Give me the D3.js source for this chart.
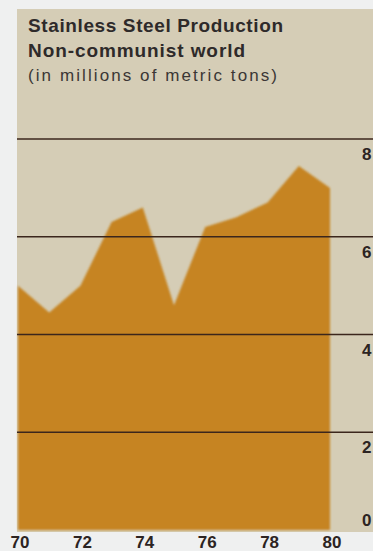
<!DOCTYPE html>
<html>
<head>
<meta charset="utf-8">
<script src="https://cdn.jsdelivr.net/npm/d3@7"></script>
<style>
  html, body { margin: 0; padding: 0; background: #eff0f0; }
  svg { display: block; }
</style>
</head>
<body>
<svg id="chart" width="373" height="551"></svg>
<script>
// Stainless steel production, non-communist world, millions of metric tons
const years = [1970, 1971, 1972, 1973, 1974, 1975, 1976, 1977, 1978, 1979, 1980];
const production = [5.0, 4.45, 5.0, 6.3, 6.6, 4.6, 6.2, 6.4, 6.7, 7.45, 7.0];
const yTicks = [0, 2, 4, 6, 8];
const gridValues = [2, 4, 6, 8];
const xTicks = [1970, 1972, 1974, 1976, 1978, 1980];
const titleLines = ["Stainless Steel Production", "Non-communist world"];
const subtitle = "(in millions of metric tons)";

const W = 373, H = 551;
const panel = { left: 17, top: 9, right: 373, bottom: 532 };
const FONT = "Liberation Sans, Arial, Helvetica, sans-serif";

const svg = d3.select("#chart");

const x = d3.scaleLinear().domain([1970, 1980]).range([18, 330]);
const y = d3.scaleLinear().domain([0, 8]).range([530, 139]);

// soft edge for the printed area
const defs = svg.append("defs");
defs.append("filter").attr("id", "soft")
  .attr("x", "-5%").attr("y", "-5%").attr("width", "110%").attr("height", "110%")
  .append("feGaussianBlur").attr("stdDeviation", 0.9);

// beige panel
svg.append("rect")
  .attr("x", panel.left).attr("y", panel.top)
  .attr("width", panel.right - panel.left).attr("height", panel.bottom - panel.top)
  .attr("fill", "#d5cdb6");

// production area
const area = d3.area()
  .x((d, i) => x(years[i]))
  .y0(y(0))
  .y1(d => y(d))
  .curve(d3.curveLinear);

svg.append("path")
  .datum(production)
  .attr("d", area)
  .attr("fill", "#c68422")
  .attr("filter", "url(#soft)");

// horizontal grid lines across the panel
svg.append("g")
  .selectAll("line")
  .data(gridValues)
  .join("line")
  .attr("x1", panel.left).attr("x2", W)
  .attr("y1", d => y(d)).attr("y2", d => y(d))
  .attr("stroke", "#3b261c")
  .attr("stroke-width", 1.4);

// y-axis labels at the right edge
svg.append("g")
  .selectAll("text")
  .data(yTicks)
  .join("text")
  .attr("x", 362)
  .attr("y", d => d === 0 ? y(d) - 4 : y(d) + 21)
  .attr("font-family", FONT)
  .attr("font-weight", "bold")
  .attr("font-size", 17)
  .attr("fill", "#2c2422")
  .text(d => d);

// x-axis year labels
svg.append("g")
  .selectAll("text")
  .data(xTicks)
  .join("text")
  .attr("x", d => x(d) + 2)
  .attr("y", 548)
  .attr("text-anchor", "middle")
  .attr("font-family", FONT)
  .attr("font-weight", "bold")
  .attr("font-size", 17)
  .attr("fill", "#2c2422")
  .text(d => String(d).slice(2));

// titles
const titleWidths = [255, 217];
svg.append("g")
  .selectAll("text")
  .data(titleLines)
  .join("text")
  .attr("x", 28)
  .attr("y", (d, i) => 32 + i * 25)
  .attr("font-family", FONT)
  .attr("font-weight", "bold")
  .attr("font-size", 19)
  .attr("fill", "#2e2a2a")
  .attr("textLength", (d, i) => titleWidths[i])
  .attr("lengthAdjust", "spacing")
  .text(d => d);

svg.append("text")
  .attr("x", 28)
  .attr("y", 81)
  .attr("font-family", FONT)
  .attr("font-size", 17)
  .attr("fill", "#3b3735")
  .attr("textLength", 249)
  .attr("lengthAdjust", "spacing")
  .text(subtitle);
</script>
</body>
</html>
